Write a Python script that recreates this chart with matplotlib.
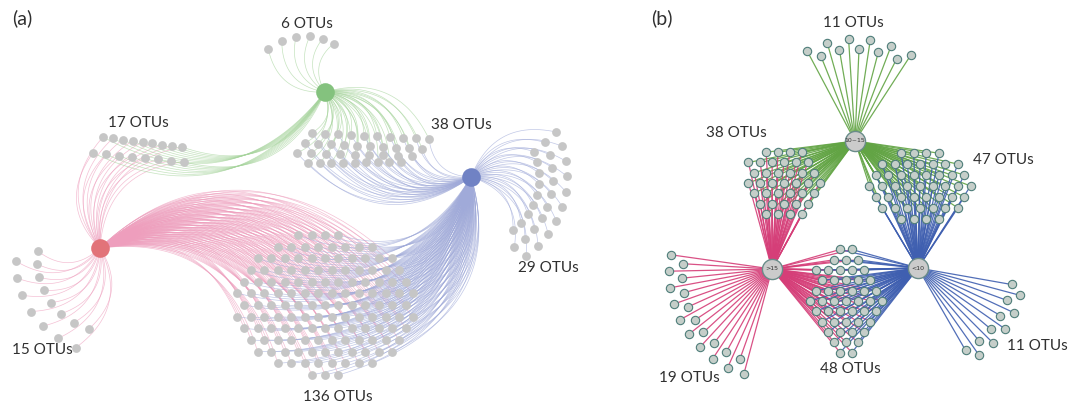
import numpy as np
import matplotlib
matplotlib.use("Agg")
import matplotlib.pyplot as plt
from matplotlib.collections import LineCollection

# ---- data: OTU groups and the hubs they are linked to ----
a_labels = ["6 OTUs", "17 OTUs", "38 OTUs", "29 OTUs", "15 OTUs", "136 OTUs"]
a_counts = [6, 17, 38, 29, 15, 136]
a_links = [["G"], ["R", "G"], ["G", "B"], ["B"], ["R"], ["R", "B"]]

b_hubs = ["10~15", ">15", "<10"]
b_labels = ["11 OTUs", "38 OTUs", "47 OTUs", "19 OTUs", "48 OTUs", "11 OTUs"]
b_counts = [11, 38, 47, 19, 48, 11]
b_links = [["10~15"], ["10~15", ">15"], ["10~15", "<10"], [">15"], [">15", "<10"], ["<10"]]

# ---- layout (pixel space, y down) ----
a_hub_pos = {"G": (325, 92), "B": (471, 177), "R": (100, 248)}
a_hub_col = {"G": "#84c27e", "B": "#7082c4", "R": "#e27379"}
a_edge_col = {"G": "#a6d49c", "B": "#a0aad9", "R": "#ee9ebd"}
a_layout = [
    ("fan", "G", -143, -80, 71, 49, [0]),
    ("rows", [(103, 137, 182, 147), (93, 153, 184, 162)]),
    ("rows", [(312, 133, 429, 139), (305, 143, 422, 149), (297, 153, 412, 156), (308, 163, 401, 162)]),
    ("fan", "B", -28, 58, 68, 68, [28, 14, 0]),
    ("fan", "R", 177, 98, 62, 82, [0, 22]),
    ("cloud", 325, 305, 92, 74),
]
a_text_pos = [(307, 24), (138, 123), (461, 125), (548, 268), (42, 350), (338, 397)]

b_hub_pos = {"10~15": (855, 141), ">15": (772, 269), "<10": (918, 268)}
b_edge_col = {"10~15": "#62a444", ">15": "#d53e78", "<10": "#3f5fb0"}
b_layout = [
    ("fan", "10~15", -118, -57, 92, 92, [10, 0]),
    ("cloud", 784, 183, 42, 35),
    ("cloud", 920, 186, 53, 39),
    ("fan", ">15", 188, 105, 89, 96, [13, 0]),
    ("cloud", 846, 301, 36, 52),
    ("fan", "<10", 10, 60, 95, 95, [0, 11]),
]
b_text_pos = [(853, 23), (736, 133), (1003, 160), (689, 378), (850, 369), (1037, 346)]


def fan(n, hub, a0, a1, r0, r1, offs):
    hx, hy = hub
    t = np.linspace(0, 1, n)
    ang = np.radians(a0 + (a1 - a0) * t)
    r = r0 + (r1 - r0) * t + np.array([offs[i % len(offs)] for i in range(n)])
    return np.column_stack([hx + r * np.cos(ang), hy + r * np.sin(ang)])


def rows(n, spec):
    k = len(spec)
    per = [n // k + (1 if i < n % k else 0) for i in range(k)]
    pts = []
    for (x0, y0, x1, y1), m in zip(spec, per):
        t = np.linspace(0, 1, m)
        pts += list(zip(x0 + (x1 - x0) * t, y0 + (y1 - y0) * t))
    return np.array(pts)


def cloud(n, cx, cy, ax, ay):
    s = np.sqrt(2 * np.pi * ax * ay / (np.sqrt(3) * n))
    nr = int(ay / (s * 0.866)) + 2
    nc = int(ax / s) + 2
    pts = np.array([((i + 0.5 * (j % 2)) * s, j * s * np.sqrt(3) / 2)
                    for j in range(-nr, nr + 1) for i in range(-nc, nc + 1)])
    d = (pts[:, 0] / ax) ** 2 + (pts[:, 1] / ay) ** 2
    return pts[np.argsort(d, kind="stable")[:n]] + [cx, cy]


def place(n, spec, hubs):
    if spec[0] == "fan":
        return fan(n, hubs[spec[1]], *spec[2:])
    if spec[0] == "rows":
        return rows(n, spec[1])
    return cloud(n, *spec[1:])


def arc(p0, p1, k=0.42, m=30):
    p0, p1 = np.asarray(p0, float), np.asarray(p1, float)
    d = p1 - p0
    c = (p0 + p1) / 2 + k * np.array([d[1], -d[0]])
    t = np.linspace(0, 1, m)[:, None]
    return (1 - t) ** 2 * p0 + 2 * (1 - t) * t * c + t ** 2 * p1


fig = plt.figure(figsize=(10.83, 4.08), dpi=100)
ax = fig.add_axes([0, 0, 1, 1])
ax.set_xlim(0, 1083)
ax.set_ylim(408, 0)
ax.axis("off")

txt = dict(fontsize=11, family=["Lato", "DejaVu Sans"], color="#303030", ha="center", va="center")

# panel (a): curved edges
for n, links, spec, lab, tp in zip(a_counts, a_links, a_layout, a_labels, a_text_pos):
    pts = place(n, spec, a_hub_pos)
    for h in links:
        segs = [arc(a_hub_pos[h], p) for p in pts]
        ax.add_collection(LineCollection(segs, colors=a_edge_col[h], linewidths=0.5, alpha=0.65, zorder=1))
    ax.scatter(pts[:, 0], pts[:, 1], s=40, c="#c6c6c6", linewidths=0, zorder=3)
    ax.text(tp[0], tp[1], lab, **txt)
for h, (x, y) in a_hub_pos.items():
    ax.scatter([x], [y], s=180, c=a_hub_col[h], linewidths=0, zorder=4)

# panel (b): straight edges
for n, links, spec, lab, tp in zip(b_counts, b_links, b_layout, b_labels, b_text_pos):
    pts = place(n, spec, b_hub_pos)
    for h in links:
        segs = [[b_hub_pos[h], p] for p in pts]
        ax.add_collection(LineCollection(segs, colors=b_edge_col[h], linewidths=0.9, alpha=0.9, zorder=1))
    ax.scatter(pts[:, 0], pts[:, 1], s=36, c="#c5cec9", edgecolors="#4f7e7a", linewidths=0.8, zorder=3)
    ax.text(tp[0], tp[1], lab, **txt)
for h in b_hubs:
    x, y = b_hub_pos[h]
    ax.scatter([x], [y], s=210, c="#cbcbcb", edgecolors="#6a8c8a", linewidths=1.0, zorder=4)
    ax.text(x, y, h, fontsize=4.5, color="#333333", ha="center", va="center", zorder=5)

ax.text(12, 18, "(a)", fontsize=14, family=["Lato", "DejaVu Sans"], color="#303030", va="center")
ax.text(651, 18, "(b)", fontsize=14, family=["Lato", "DejaVu Sans"], color="#303030", va="center")

fig.savefig("out.png", dpi=100)
